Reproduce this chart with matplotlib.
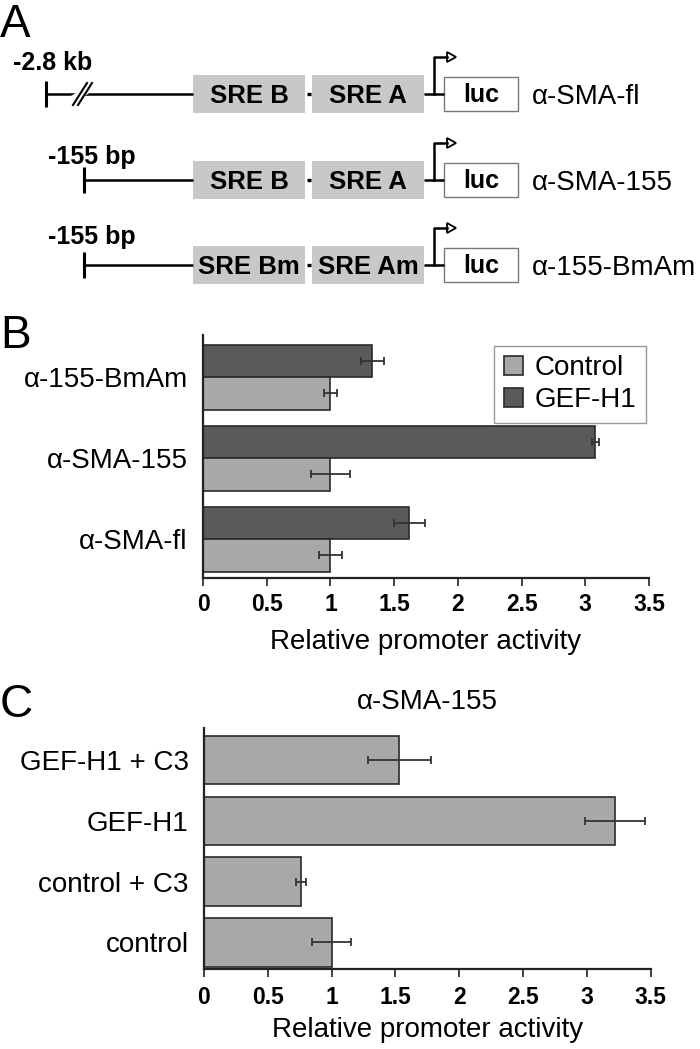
import matplotlib
matplotlib.use('Agg')
import matplotlib.pyplot as plt
from matplotlib.patches import Rectangle, Polygon
import numpy as np

plt.rcParams['font.family'] = ['Liberation Sans', 'DejaVu Sans']

# ---------------- data ----------------
# Panel A (construct diagrams)
constructs = ["α-SMA-fl", "α-SMA-155", "α-155-BmAm"]
start_labels = ["-2.8 kb", "-155 bp", "-155 bp"]
sre_b_labels = ["SRE B", "SRE B", "SRE Bm"]
sre_a_labels = ["SRE A", "SRE A", "SRE Am"]
reporter_label = "luc"
has_break = [True, False, False]

# Panel B
b_categories = ["α-SMA-fl", "α-SMA-155", "α-155-BmAm"]
b_control = [1.0, 1.0, 1.0]
b_control_err = [0.09, 0.15, 0.053]
b_gef = [1.62, 3.08, 1.33]
b_gef_err = [0.12, 0.025, 0.09]
b_series = ["Control", "GEF-H1"]

# Panel C
c_title = "α-SMA-155"
c_categories = ["control", "control + C3", "GEF-H1", "GEF-H1 + C3"]
c_values = [1.0, 0.76, 3.22, 1.53]
c_err = [0.15, 0.04, 0.235, 0.245]

xticks = [0, 0.5, 1, 1.5, 2, 2.5, 3, 3.5]
xtick_labels = ["0", "0.5", "1", "1.5", "2", "2.5", "3", "3.5"]
xlabel = "Relative promoter activity"

# ---------------- figure ----------------
W, H = 700, 1049
fig = plt.figure(figsize=(W / 100, H / 100), dpi=100)

# Panel A drawn in pixel coordinates
axA = fig.add_axes([0, 0, 1, 1])
axA.set_xlim(0, W)
axA.set_ylim(H, 0)
axA.axis('off')

row_y = [94, 180, 265]
tick_x = [46, 84, 84]
lab_x = [13, 48, 48]
lab_y = [61, 155, 235]
box_fc = '#c8c8c8'
lw = 1.8
fs_box = 18.5
fs_px = fs_box * 100 / 72

for i, name in enumerate(constructs):
    y = row_y[i]
    x0 = tick_x[i]
    axA.plot([x0, 193], [y, y], color='black', lw=lw, solid_capstyle='butt')
    axA.plot([x0, x0], [y - 13, y + 13], color='black', lw=2.2, solid_capstyle='butt')
    if has_break[i]:
        axA.plot([76, 86], [y + 3, y - 3], color='white', lw=5)
        for dx in (0, 5):
            axA.plot([73 + dx, 87 + dx], [y + 11, y - 11], color='black', lw=1.5)
    # SRE B box
    axA.add_patch(Rectangle((193, y - 19), 112, 38, facecolor=box_fc, edgecolor='none'))
    axA.text(249, y + 0.36 * fs_px, sre_b_labels[i], ha='center', va='baseline',
             fontsize=fs_box, fontweight='bold')
    axA.plot([306.5, 310.5], [y, y], color='black', lw=2.4, solid_capstyle='butt')
    # SRE A box
    axA.add_patch(Rectangle((312, y - 19), 112, 38, facecolor=box_fc, edgecolor='none'))
    axA.text(368, y + 0.36 * fs_px, sre_a_labels[i], ha='center', va='baseline',
             fontsize=fs_box, fontweight='bold')
    # connector + promoter arrow
    axA.plot([424, 444], [y, y], color='black', lw=lw, solid_capstyle='butt')
    axA.plot([434, 434, 447], [y, y - 37, y - 37], color='black', lw=lw)
    axA.add_patch(Polygon([[447, y - 42], [456, y - 37], [447, y - 32]], closed=True,
                          facecolor='white', edgecolor='black', lw=1.3))
    # luc box
    axA.add_patch(Rectangle((444, y - 17), 74, 34, facecolor='white', edgecolor='#777777', lw=1.0))
    axA.text(481, y + 0.33 * fs_px, reporter_label, ha='center', va='baseline',
             fontsize=18, fontweight='bold')
    # construct name
    axA.text(532, y + 0.36 * 20 * 100 / 72, name, ha='left', va='baseline', fontsize=20)
    # start label
    axA.text(lab_x[i], lab_y[i] + 0.36 * 18 * 100 / 72, start_labels[i], ha='left',
             va='baseline', fontsize=18, fontweight='bold')

# panel letters
for letter, base in zip(["A", "B", "C"], [37, 348, 717]):
    fig.text(0.0, 1 - base / H, letter, fontsize=33, ha='left', va='baseline')


def style_axes(ax, tick_pad, label_pad):
    for s in ['top', 'right']:
        ax.spines[s].set_visible(False)
    for s in ['left', 'bottom']:
        ax.spines[s].set_linewidth(1.6)
        ax.spines[s].set_color('#222222')
    ax.set_xlim(0, 3.5)
    ax.set_xticks(xticks)
    ax.set_xticklabels(xtick_labels, fontsize=16.5, fontweight='bold')
    ax.tick_params(axis='x', length=6, width=1.2, pad=tick_pad, color='#222222')
    ax.tick_params(axis='y', length=0, pad=11, labelsize=20)
    ax.set_xlabel(xlabel, fontsize=20, labelpad=label_pad)


err_kw = dict(ecolor='#333333', elinewidth=1.3, capsize=3, capthick=1.3)

# Panel B
axB = fig.add_axes([203 / W, 1 - 578 / H, 446 / W, 243 / H])
pos = np.arange(len(b_categories))
hg = axB.barh(pos + 0.2, b_gef, height=0.4, color='#5a5a5a', edgecolor='#2a2a2a',
              lw=1.2, xerr=b_gef_err, error_kw=err_kw, label=b_series[1])
hc = axB.barh(pos - 0.2, b_control, height=0.4, color='#a8a8a8', edgecolor='#2a2a2a',
              lw=1.2, xerr=b_control_err, error_kw=err_kw, label=b_series[0])
axB.set_ylim(-0.48, 2.52)
axB.set_yticks(pos)
axB.set_yticklabels(b_categories)
style_axes(axB, 5, 9)
leg = axB.legend([hc, hg], b_series, loc='upper right', bbox_to_anchor=(0.993, 0.956),
                 fontsize=20, frameon=True, fancybox=False, framealpha=1,
                 edgecolor='#999999', handlelength=0.7, handleheight=0.7,
                 handletextpad=0.4, labelspacing=0.2, borderpad=0.35, borderaxespad=0)
leg.get_frame().set_linewidth(1.0)

# Panel C
axC = fig.add_axes([204 / W, 1 - 969 / H, 446.7 / W, 241 / H])
posc = np.arange(len(c_categories))
axC.barh(posc, c_values, height=0.8, color='#a8a8a8', edgecolor='#2a2a2a', lw=1.2,
         xerr=c_err, error_kw=err_kw)
axC.set_ylim(-0.44, 3.53)
axC.set_yticks(posc)
axC.set_yticklabels(c_categories)
style_axes(axC, 6, 6)
axC.set_title(c_title, fontsize=20, pad=14)

fig.savefig('out.png', dpi=100)
